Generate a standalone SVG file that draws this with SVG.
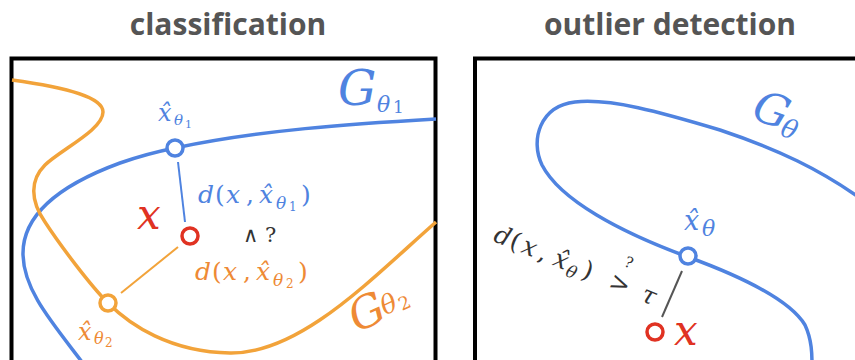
<svg xmlns="http://www.w3.org/2000/svg" width="855" height="360" viewBox="0 0 855 360">
<style>
.title{font-family:"Open Sans","Noto Sans",sans-serif;font-weight:700;font-size:30px;fill:#555;text-anchor:middle}
.m{font-family:"DejaVu Serif","Liberation Serif",serif;font-style:italic}
.r{font-family:"DejaVu Serif","Liberation Serif",serif;font-style:normal}
.frame{fill:none;stroke:#000;stroke-width:4}
.cb{fill:none;stroke:#4F83E0;stroke-width:3.5}
.co{fill:none;stroke:#F2A33A;stroke-width:3.5}
.nb{fill:#fff;stroke:#4F83E0;stroke-width:3.5}
.no{fill:#fff;stroke:#F2A33A;stroke-width:3.5}
.nr{fill:#fff;stroke:#E03222;stroke-width:3.5}
.tb{fill:#4F83E0}.to{fill:#EE8A35}.tr{fill:#E03222}.tg{fill:#333}
</style>
<text class="title" x="228" y="35">classification</text>
<text class="title" x="670" y="35">outlier detection</text>
<g id="frame-left"><rect class="frame" x="11.5" y="58.5" width="424" height="330"/></g>
<g id="frame-right"><rect class="frame" x="475" y="58.5" width="400" height="330"/></g>

<g id="connectors">
<path id="G1" class="cb" d="M 82 362 C 50 320, 24 290, 23 255 C 22 215, 60 185, 120 163 C 140 156, 160 151, 175 148 C 260 130, 350 124, 436 119"/>
<path id="G2" class="co" d="M 12 80 C 70 88, 103 98, 103 112 C 103 130, 60 150, 45 165 C 30 180, 30 200, 45 222 C 60 245, 90 285, 108 303 C 130 325, 170 352, 230 353 C 300 354, 370 280, 436 222"/>
<path id="G" class="cb" d="M 860 198 C 820 170, 780 150, 720 130 C 660 112, 610 98, 575 102 C 540 106, 530 140, 542 165 C 560 200, 620 232, 688 257 C 740 276, 790 300, 805 325 C 812 340, 812 355, 812 365"/>
<line x1="178" y1="162" x2="185" y2="222" stroke="#4F83E0" stroke-width="2"/>
<line x1="121" y1="293" x2="178" y2="247" stroke="#F2A33A" stroke-width="2"/>
<line x1="682" y1="271" x2="662" y2="317" stroke="#555" stroke-width="2"/>
</g>

<g id="node-xhat1"><circle class="nb" cx="175" cy="148" r="8"/>
<text class="m tb" font-size="24"><tspan x="158" y="121">x̂</tspan><tspan x="174" y="125" font-size="15">θ</tspan><tspan class="r" x="185" y="128" font-size="11">1</tspan></text></g>
<g id="node-xhat2"><circle class="no" cx="108" cy="303" r="8"/>
<text class="m to" font-size="24"><tspan x="78" y="340">x̂</tspan><tspan x="94" y="344" font-size="16">θ</tspan><tspan class="r" x="105" y="347" font-size="12">2</tspan></text></g>
<g id="node-x-left"><circle class="nr" cx="190" cy="236" r="8"/>
<text class="m tr" x="137" y="229" font-size="42">x</text></g>

<g id="label-G1"><text class="m tb" font-size="48"><tspan x="338" y="105">G</tspan><tspan x="377" y="112" font-size="22">θ</tspan><tspan class="r" x="393" y="113" font-size="17">1</tspan></text></g>
<g id="label-G2" transform="translate(357,333) rotate(-25)"><text class="m to" font-size="44"><tspan x="0" y="0">G</tspan><tspan x="33" y="-4" font-size="26">θ</tspan><tspan class="r" x="50" y="-1" font-size="18">2</tspan></text></g>

<g id="label-d1"><text class="m tb" font-size="25"><tspan x="198" y="203">d</tspan><tspan class="r" x="215" y="203">(</tspan><tspan x="226" y="203">x</tspan><tspan class="r" x="246" y="203">,</tspan><tspan x="259" y="203">x̂</tspan><tspan x="276" y="209" font-size="17">θ</tspan><tspan class="r" x="289" y="211" font-size="12">1</tspan><tspan class="r" x="301" y="203">)</tspan></text></g>
<g id="label-cmp"><text class="r tg" font-size="21"><tspan x="243" y="242">∧</tspan><tspan x="265" y="242">?</tspan></text></g>
<g id="label-d2"><text class="m to" font-size="25"><tspan x="195" y="280">d</tspan><tspan class="r" x="212" y="280">(</tspan><tspan x="223" y="280">x</tspan><tspan class="r" x="243" y="280">,</tspan><tspan x="256" y="280">x̂</tspan><tspan x="273" y="286" font-size="17">θ</tspan><tspan class="r" x="286" y="288" font-size="12">2</tspan><tspan class="r" x="298" y="280">)</tspan></text></g>

<g id="node-xhat"><circle class="nb" cx="688" cy="256" r="8"/>
<text class="m tb" font-size="27"><tspan x="684" y="230">x̂</tspan><tspan x="702" y="236" font-size="22">θ</tspan></text></g>
<g id="node-x-right"><circle class="nr" cx="655" cy="332" r="8"/>
<text class="m tr" x="674" y="345" font-size="42">x</text></g>
<g id="label-G" transform="translate(750,118) rotate(20)"><text class="m tb" font-size="44"><tspan x="0" y="0">G</tspan><tspan x="33" y="6" font-size="26">θ</tspan></text></g>
<g id="label-dtau" transform="translate(494,247) rotate(22)"><text class="m tg" font-size="25"><tspan x="-4" y="-5">d</tspan><tspan class="r" x="13" y="-5">(</tspan><tspan x="26" y="-5">x</tspan><tspan class="r" x="44" y="-5">,</tspan><tspan x="60" y="-5">x̂</tspan><tspan x="76" y="0" font-size="17">θ</tspan><tspan class="r" x="91" y="-5">)</tspan><tspan class="r" x="120" y="-5">&gt;</tspan><tspan class="r" x="127" y="-31" font-size="15">?</tspan><tspan x="155" y="-5">τ</tspan></text></g>
</svg>
